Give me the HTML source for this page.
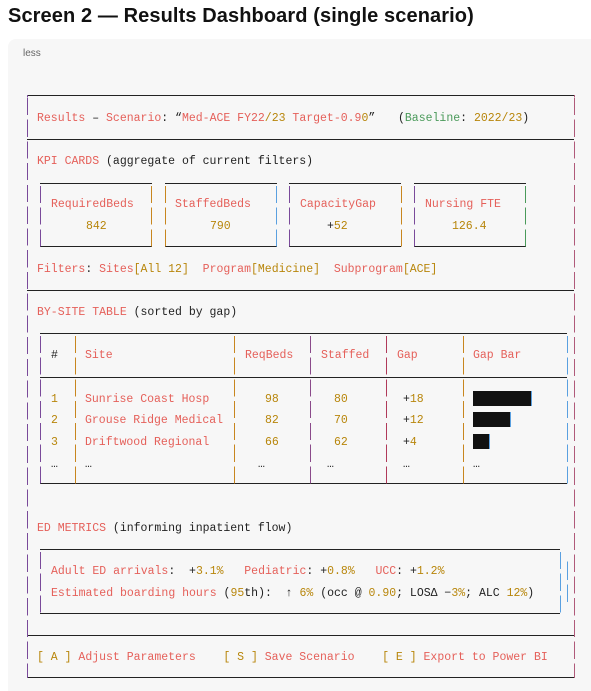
<!DOCTYPE html>
<html><head><meta charset="utf-8"><style>
html,body{margin:0;padding:0;background:#fff;width:591px;height:691px;overflow:hidden;position:relative}
#t{position:absolute;left:8px;top:5px;font:bold 20px "Liberation Sans",sans-serif;color:#111;white-space:nowrap;letter-spacing:0.1px}
#c{position:absolute;left:8px;top:39px;width:600px;height:660px;background:#f7f7f7;border-radius:8px}
#less{position:absolute;left:23px;top:48px;font:10px "Liberation Sans",sans-serif;color:#666}
.h{position:absolute;height:1px;background:#222}
.v{position:absolute;width:1px;background:repeating-linear-gradient(to bottom,var(--c) 0,var(--c) 17px,transparent 17px,transparent 21.75px);background-position:0 3px}
.s{position:absolute;font:11.5px/16px "Liberation Mono",monospace;white-space:pre;color:#222}
.r{color:#e5605a}.o{color:#b8860b}.g{color:#4a9a5a}.k{color:#222}
.bar{position:absolute;background:#111;border-right:1px solid #5aa0e0}
</style></head><body>
<div id="t">Screen 2 — Results Dashboard (single scenario)</div>
<div id="c"></div>
<div id="less">less</div>

<div class="h" style="left:27px;width:547px;top:95px"></div>
<div class="h" style="left:27px;width:547px;top:139px"></div>
<div class="h" style="left:27px;width:547px;top:290px"></div>
<div class="h" style="left:27px;width:547px;top:635px"></div>
<div class="h" style="left:27px;width:547px;top:677px"></div>
<div class="v" style="left:27px;top:95px;height:583px;--c:#7a4a9a"></div>
<div class="v" style="left:574px;top:95px;height:583px;--c:#b05a7a"></div>

<div class="h" style="left:40px;width:112px;top:183px"></div><div class="h" style="left:40px;width:112px;top:246px"></div>
<div class="v" style="left:40px;top:183px;height:64px;--c:#7a4a9a"></div><div class="v" style="left:151px;top:183px;height:64px;--c:#c8861e"></div>
<div class="h" style="left:165px;width:112px;top:183px"></div><div class="h" style="left:165px;width:112px;top:246px"></div>
<div class="v" style="left:165px;top:183px;height:64px;--c:#c8861e"></div><div class="v" style="left:276px;top:183px;height:64px;--c:#5aa0e0"></div>
<div class="h" style="left:289px;width:112px;top:183px"></div><div class="h" style="left:289px;width:112px;top:246px"></div>
<div class="v" style="left:289px;top:183px;height:64px;--c:#7a4a9a"></div><div class="v" style="left:401px;top:183px;height:64px;--c:#c8861e"></div>
<div class="h" style="left:414px;width:112px;top:183px"></div><div class="h" style="left:414px;width:112px;top:246px"></div>
<div class="v" style="left:414px;top:183px;height:64px;--c:#7a4a9a"></div><div class="v" style="left:525px;top:183px;height:64px;--c:#4a9a5a"></div>

<div class="s" style="left:37px;top:111px"><span class="r">Results</span> – <span class="r">Scenario</span>: “<span class="r">Med-ACE FY22</span><span class="o">/23</span> <span class="r">Target-0.9</span><span class="o">0</span>”</div>
<div class="s" style="left:398px;top:111px">(<span class="g">Baseline</span>: <span class="o">2022/23</span>)</div>
<div class="s" style="left:37px;top:154px"><span class="r">KPI CARDS</span> (aggregate of current filters)</div>
<div class="s r" style="left:51px;top:197px">RequiredBeds</div>
<div class="s r" style="left:175px;top:197px">StaffedBeds</div>
<div class="s r" style="left:300px;top:197px">CapacityGap</div>
<div class="s r" style="left:425px;top:197px">Nursing FTE</div>
<div class="s o" style="left:86px;top:219px">842</div>
<div class="s o" style="left:210px;top:219px">790</div>
<div class="s" style="left:327px;top:219px">+<span class="o">52</span></div>
<div class="s o" style="left:452px;top:219px">126.4</div>
<div class="s" style="left:37px;top:262px"><span class="r">Filters</span>: <span class="r">Sites</span><span class="o">[All 12]</span>  <span class="r">Program</span><span class="o">[Medicine]</span>  <span class="r">Subprogram</span><span class="o">[ACE]</span></div>

<div class="s" style="left:37px;top:305px"><span class="r">BY-SITE TABLE</span> (sorted by gap)</div>
<div class="h" style="left:40px;width:527px;top:333px"></div>
<div class="h" style="left:40px;width:527px;top:377px"></div>
<div class="h" style="left:40px;width:527px;top:483px"></div>
<div class="v" style="left:40px;top:333px;height:151px;--c:#7a4a9a"></div>
<div class="v" style="left:75px;top:333px;height:151px;--c:#c8861e"></div>
<div class="v" style="left:234px;top:333px;height:151px;--c:#c8861e"></div>
<div class="v" style="left:310px;top:333px;height:151px;--c:#8a4a8a"></div>
<div class="v" style="left:386px;top:333px;height:151px;--c:#b03a5a"></div>
<div class="v" style="left:463px;top:333px;height:151px;--c:#c8861e"></div>
<div class="v" style="left:567px;top:333px;height:151px;--c:#5aa0e0"></div>
<div class="s" style="left:51px;top:348px">#</div>
<div class="s r" style="left:85px;top:348px">Site</div>
<div class="s r" style="left:245px;top:348px">ReqBeds</div>
<div class="s r" style="left:321px;top:348px">Staffed</div>
<div class="s r" style="left:397px;top:348px">Gap</div>
<div class="s r" style="left:473px;top:348px">Gap Bar</div>

<div class="s o" style="left:51px;top:392px">1</div><div class="s r" style="left:85px;top:392px">Sunrise Coast Hosp</div><div class="s o" style="left:265px;top:392px">98</div><div class="s o" style="left:334px;top:392px">80</div><div class="s" style="left:403px;top:392px">+<span class="o">18</span></div>
<div class="s o" style="left:51px;top:413px">2</div><div class="s r" style="left:85px;top:413px">Grouse Ridge Medical</div><div class="s o" style="left:265px;top:413px">82</div><div class="s o" style="left:334px;top:413px">70</div><div class="s" style="left:403px;top:413px">+<span class="o">12</span></div>
<div class="s o" style="left:51px;top:435px">3</div><div class="s r" style="left:85px;top:435px">Driftwood Regional</div><div class="s o" style="left:265px;top:435px">66</div><div class="s o" style="left:334px;top:435px">62</div><div class="s" style="left:403px;top:435px">+<span class="o">4</span></div>
<div class="s" style="left:51px;top:457px">…</div><div class="s" style="left:85px;top:457px">…</div><div class="s" style="left:258px;top:457px">…</div><div class="s" style="left:327px;top:457px">…</div><div class="s" style="left:403px;top:457px">…</div><div class="s" style="left:473px;top:457px">…</div>
<div class="bar" style="left:473px;top:391px;width:58px;height:15px"></div>
<div class="bar" style="left:473px;top:412px;width:37px;height:15px"></div>
<div class="bar" style="left:473px;top:434px;width:16px;height:15px"></div>

<div class="s" style="left:37px;top:521px"><span class="r">ED METRICS</span> (informing inpatient flow)</div>
<div class="h" style="left:40px;width:520px;top:549px"></div>
<div class="h" style="left:40px;width:520px;top:613px"></div>
<div class="v" style="left:40px;top:549px;height:65px;--c:#7a4a9a"></div>
<div class="v" style="left:560px;top:549px;height:65px;--c:#5aa0e0"></div>
<div class="v" style="left:567px;top:560px;height:45px;--c:#5aa0e0"></div>
<div class="s" style="left:51px;top:564px"><span class="r">Adult ED arrivals</span>:  +<span class="o">3.1%</span>   <span class="r">Pediatric</span>: +<span class="o">0.8%</span>   <span class="r">UCC</span>: +<span class="o">1.2%</span></div>
<div class="s" style="left:51px;top:586px"><span class="r">Estimated boarding hours</span> (<span class="o">95</span>th):  ↑ <span class="o">6%</span> (occ @ <span class="o">0.90</span>; LOSΔ −<span class="o">3%</span>; ALC <span class="o">12%</span>)</div>

<div class="s" style="left:37px;top:650px"><span class="o">[ A ]</span> <span class="r">Adjust Parameters</span>    <span class="o">[ S ]</span> <span class="r">Save Scenario</span>    <span class="o">[ E ]</span> <span class="r">Export to Power BI</span></div>
</body></html>
